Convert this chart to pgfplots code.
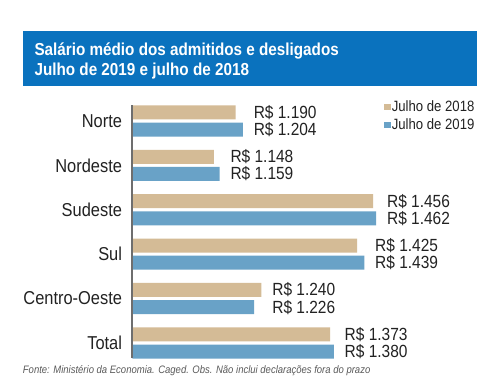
\documentclass[border=0pt]{standalone}
\usepackage{pgfplots}
\pgfplotsset{compat=1.18}
\usepackage{pgfplotstable}
\usepackage{fontspec}
\setmainfont{Liberation Sans}[FakeStretch=0.88]
\definecolor{tanbar}{HTML}{D4BB96}
\definecolor{bluebar}{HTML}{69A2C7}
\definecolor{titleblue}{HTML}{0A72BE}
\definecolor{axisgray}{HTML}{6E6E6E}
\definecolor{txt}{HTML}{222222}
\definecolor{foot}{HTML}{5A5A5A}
\pgfplotstableread{
y a b la lb
5 1190 1204 1.190 1.204
4 1148 1159 1.148 1.159
3 1456 1462 1.456 1.462
2 1425 1439 1.425 1.439
1 1240 1226 1.240 1.226
0 1373 1380 1.373 1.380
}\data
\begin{document}
\begin{tikzpicture}
\path[fill=white] (0,0) rectangle (375pt,-289.5pt);
\fill[titleblue] (17pt,-23.25pt) rectangle (357.5pt,-64.3pt);
\node[anchor=base west, inner sep=0pt, text=white, font=\fontsize{13pt}{15pt}\selectfont\bfseries] at (25.7pt,-41.25pt) {Salário médio dos admitidos e desligados};
\node[anchor=base west, inner sep=0pt, text=white, font=\fontsize{13pt}{15pt}\selectfont\bfseries] at (25.7pt,-56.25pt) {Julho de 2019 e julho de 2018};
\node[anchor=base west, inner sep=0pt, text=foot, font=\fontsize{8.1pt}{10pt}\selectfont\itshape] at (17pt,-279.75pt) {Fonte: Ministério da Economia. Caged. Obs. Não inclui declarações fora do prazo};
\begin{axis}[
  at={(99.2pt,-268.5pt)}, anchor=south west,
  scale only axis, width=255.75pt, height=189.75pt,
  xmin=990, xmax=1650, ymin=-0.34, ymax=5.36,
  hide x axis,
  axis y line*=left,
  y axis line style={draw=axisgray, line width=1.7pt, -},
  axis on top,
  ytick={0,...,5},
  yticklabels={Total,Centro-Oeste,Sul,Sudeste,Nordeste,Norte},
  major tick length=0pt,
  yticklabel style={font=\fontsize{14pt}{16pt}\selectfont, text=txt, inner sep=0pt, xshift=-7.5pt},
  legend style={draw=none, fill=none, at={(0.738,1.022)}, anchor=north west, font=\fontsize{11.2pt}{13pt}\selectfont, inner sep=0pt, row sep=3pt, nodes={inner sep=0.5pt, text=txt}},
  legend cell align=left,
  legend image code/.code={\fill[#1] (0pt,-2.25pt) rectangle (5.25pt,2.25pt);},
]
\addplot[xbar, bar width=10.5pt, bar shift=6.45pt, fill=tanbar, draw=none] table[x=a, y=y] {\data};
\addlegendentry{Julho de 2018}
\addplot[xbar, bar width=10.5pt, bar shift=-6.45pt, fill=bluebar, draw=none] table[x=b, y=y] {\data};
\addlegendentry{Julho de 2019}
\addplot[draw=none, mark=none, forget plot, nodes near coords={R\$ \pgfplotspointmeta}, point meta=explicit symbolic,
  nodes near coords style={anchor=west, font=\fontsize{13.2pt}{15pt}\selectfont, text=txt, inner sep=0pt, xshift=8pt, yshift=6.45pt}]
  table[x expr={max(\thisrow{a},\thisrow{b})}, y=y, meta=la] {\data};
\addplot[draw=none, mark=none, forget plot, nodes near coords={R\$ \pgfplotspointmeta}, point meta=explicit symbolic,
  nodes near coords style={anchor=west, font=\fontsize{13.2pt}{15pt}\selectfont, text=txt, inner sep=0pt, xshift=8pt, yshift=-6.45pt}]
  table[x expr={max(\thisrow{a},\thisrow{b})}, y=y, meta=lb] {\data};
\end{axis}
\end{tikzpicture}
\end{document}
